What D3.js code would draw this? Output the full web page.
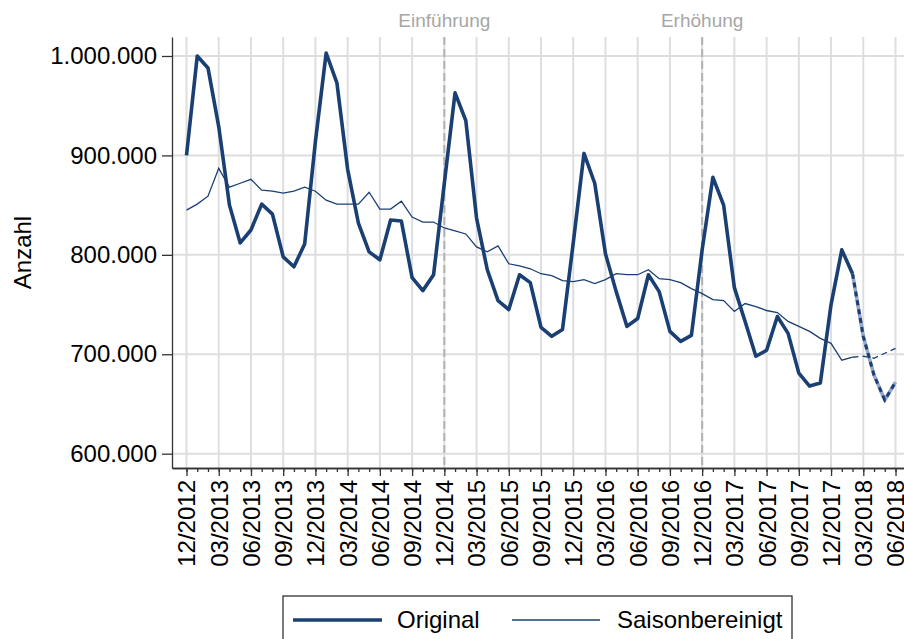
<!DOCTYPE html>
<html>
<head>
<meta charset="utf-8">
<script src="https://cdn.jsdelivr.net/npm/d3@7"></script>
<style>
  body { margin: 0; background: #fff; }
  svg { font-family: "Liberation Sans", Arial, sans-serif; }
</style>
</head>
<body>
<div id="chart"></div>
<script>
// monthly values 12/2012 .. 06/2018 (index 0..66)
const tickLabels = ["12/2012","03/2013","06/2013","09/2013","12/2013","03/2014","06/2014","09/2014",
  "12/2014","03/2015","06/2015","09/2015","12/2015","03/2016","06/2016","09/2016",
  "12/2016","03/2017","06/2017","09/2017","12/2017","03/2018","06/2018"];

const original = [900000,1000000,988000,929000,850000,812000,825000,851000,841000,798000,788000,811000,
  914000,1003000,973000,886000,832000,803000,795000,835000,834000,777000,764000,780000,
  872000,963000,935000,837000,785000,754000,745000,780000,772000,727000,718000,725000,
  812000,902000,872000,801000,763000,728000,736000,780000,763000,723000,713000,719000,
  805000,878000,850000,767000,733000,698000,704000,738000,721000,681000,668000,671000,
  750000,805000,781000,718000,679000,654000,672000];

const saison = [845000,851000,859000,887000,868000,872000,876000,865000,864000,862000,864000,868000,
  864000,855000,851000,851000,851000,863000,846000,846000,854000,838000,833000,833000,
  827000,824000,821000,808000,803000,809000,791000,789000,786000,781000,779000,774000,
  773000,775000,771000,775000,781000,780000,780000,785000,776000,775000,772000,766000,
  761000,755000,754000,743000,751000,748000,744000,742000,733000,728000,723000,716000,
  711000,694000,697000,698000,696000,701000,706000];

const provisionalFrom = 62; // 02/2018: vorläufige Werte
const events = [{i: 24, label: "Einführung"}, {i: 48, label: "Erhöhung"}];
const yTicks = [600000, 700000, 800000, 900000, 1000000];

const navy = "#1a3f73";
const W = 904, H = 639;
const pL = 172, pR = 904, pT = 37, pB = 468;

const svg = d3.select("#chart").append("svg").attr("width", W).attr("height", H);

const x = d3.scaleLinear().domain([-1.35, 66.79]).range([pL, pR]);
const y = d3.scaleLinear().domain([585600, 1019100]).range([pB, pT]);

const de = d3.formatLocale({decimal: ",", thousands: ".", grouping: [3], currency: ["", "€"]});
const fmt = de.format(",d");

const majors = d3.range(0, 67, 3);

// gridlines
svg.append("g").selectAll("line").data(yTicks).join("line")
  .attr("x1", pL).attr("x2", pR)
  .attr("y1", d => y(d)).attr("y2", d => y(d))
  .attr("stroke", "#dedede").attr("stroke-width", 2);
svg.append("g").selectAll("line").data(majors).join("line")
  .attr("x1", d => x(d)).attr("x2", d => x(d))
  .attr("y1", pT).attr("y2", pB)
  .attr("stroke", "#dedede").attr("stroke-width", 2);

// event lines
svg.append("g").selectAll("line").data(events).join("line")
  .attr("x1", d => x(d.i)).attr("x2", d => x(d.i))
  .attr("y1", pT).attr("y2", pB)
  .attr("stroke", "#b2b2b2").attr("stroke-width", 2).attr("stroke-dasharray", "8,4");
svg.append("g").selectAll("text").data(events).join("text")
  .attr("x", d => x(d.i)).attr("y", 27)
  .attr("text-anchor", "middle").attr("font-size", "19px").attr("fill", "#a6a6a6")
  .text(d => d.label);

// axes
const yAxis = svg.append("g").attr("transform", `translate(${pL},0)`)
  .call(d3.axisLeft(y).tickValues(yTicks).tickFormat(fmt).tickSize(10).tickPadding(5).tickSizeOuter(0));
yAxis.selectAll("text").attr("font-size", "24px").attr("fill", "#000");

const xMinor = svg.append("g").attr("transform", `translate(0,${pB})`)
  .call(d3.axisBottom(x).tickValues(d3.range(0, 67)).tickFormat("").tickSize(4).tickSizeOuter(0));
const xAxis = svg.append("g").attr("transform", `translate(0,${pB})`)
  .call(d3.axisBottom(x).tickValues(majors).tickFormat(d => tickLabels[d / 3]).tickSize(8).tickSizeOuter(0));
xAxis.selectAll("text")
  .attr("transform", "rotate(-90)")
  .attr("text-anchor", "end")
  .attr("x", -12).attr("y", 0).attr("dy", "0.35em")
  .attr("font-size", "24px").attr("fill", "#000");
svg.selectAll(".domain, .tick line").attr("stroke", "#333").attr("stroke-width", 1.3);

// lines
const line = d3.line().x(d => x(d[0])).y(d => y(d[1]));
const pts = arr => arr.map((v, i) => [i, v]);
const origPts = pts(original), saisPts = pts(saison);

svg.append("path").datum(saisPts.slice(0, provisionalFrom + 1))
  .attr("fill", "none").attr("stroke", navy).attr("stroke-width", 1.3).attr("d", line);
svg.append("path").datum(saisPts.slice(provisionalFrom))
  .attr("fill", "none").attr("stroke", navy).attr("stroke-width", 1.3)
  .attr("stroke-dasharray", "6,4").attr("d", line);

svg.append("path").datum(origPts.slice(0, provisionalFrom + 1))
  .attr("fill", "none").attr("stroke", navy).attr("stroke-width", 3.6)
  .attr("stroke-linejoin", "round").attr("d", line);
svg.append("path").datum(origPts.slice(provisionalFrom))
  .attr("fill", "none").attr("stroke", "#95a6c8").attr("stroke-width", 3.6)
  .attr("stroke-linejoin", "round").attr("d", line);
svg.append("path").datum(origPts.slice(provisionalFrom))
  .attr("fill", "none").attr("stroke", navy).attr("stroke-width", 3)
  .attr("stroke-dasharray", "5,4").attr("d", line);

// y title
svg.append("text")
  .attr("transform", `translate(31,${(pT + pB) / 2}) rotate(-90)`)
  .attr("text-anchor", "middle").attr("font-size", "24px").text("Anzahl");

// legend
const lg = svg.append("g");
lg.append("rect").attr("x", 283).attr("y", 596).attr("width", 509).attr("height", 60)
  .attr("fill", "#fff").attr("stroke", "#333").attr("stroke-width", 1.3);
const items = [
  {label: "Original", w: 3.6, x0: 293, x1: 382, tx: 397},
  {label: "Saisonbereinigt", w: 1.3, x0: 512, x1: 600, tx: 617}
];
items.forEach(d => {
  lg.append("line").attr("x1", d.x0).attr("x2", d.x1).attr("y1", 620).attr("y2", 620)
    .attr("stroke", navy).attr("stroke-width", d.w);
  lg.append("text").attr("x", d.tx).attr("y", 628).attr("font-size", "24px").text(d.label);
});
</script>
</body>
</html>
